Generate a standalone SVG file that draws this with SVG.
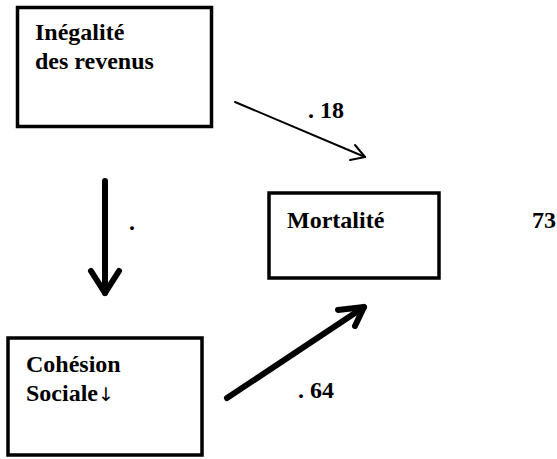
<svg xmlns="http://www.w3.org/2000/svg" width="557" height="459" viewBox="0 0 557 459">
<style>
.box{fill:#fff;stroke:#000;stroke-width:3.5}
.t{font-family:"Liberation Serif","Times New Roman",serif;font-weight:bold;font-size:24px;fill:#000}
.ar{font-family:"DejaVu Sans",sans-serif;font-weight:normal;font-size:19px}
.c{fill:none;stroke:#000;stroke-linecap:round;stroke-linejoin:round}
</style>
<rect width="557" height="459" fill="#fff"/>
<g id="node-inegalite">
<rect class="box" x="17.5" y="7.5" width="194" height="119"/>
<text class="t" x="35" y="40">Inégalité</text>
<text class="t" x="35" y="69">des revenus</text>
</g>
<g id="node-mortalite">
<rect class="box" x="269" y="193" width="170" height="85"/>
<text class="t" x="287" y="228">Mortalité</text>
</g>
<g id="node-cohesion">
<rect class="box" x="8" y="338" width="194" height="117"/>
<text class="t" x="26" y="372">Cohésion</text>
<text class="t" x="26" y="401">Sociale<tspan class="ar">↓</tspan></text>
</g>
<g id="connectors">
<line class="c" x1="235" y1="102" x2="365" y2="157" stroke-width="2"/>
<polyline class="c" points="355,145 365,157 350,160" stroke-width="2"/>
<line class="c" x1="105" y1="181" x2="105" y2="293" stroke-width="6"/>
<polyline class="c" points="91,271 105,293 119,271" stroke-width="6"/>
<line class="c" x1="227" y1="398" x2="364" y2="307" stroke-width="6"/>
<polyline class="c" points="338,310 364,307 355,326" stroke-width="6"/>
</g>
<g id="labels">
<text class="t" x="308" y="118">. 18</text>
<text class="t" x="129" y="230">.</text>
<text class="t" x="298" y="398">. 64</text>
<text class="t" x="532" y="228">73</text>
</g>
</svg>
